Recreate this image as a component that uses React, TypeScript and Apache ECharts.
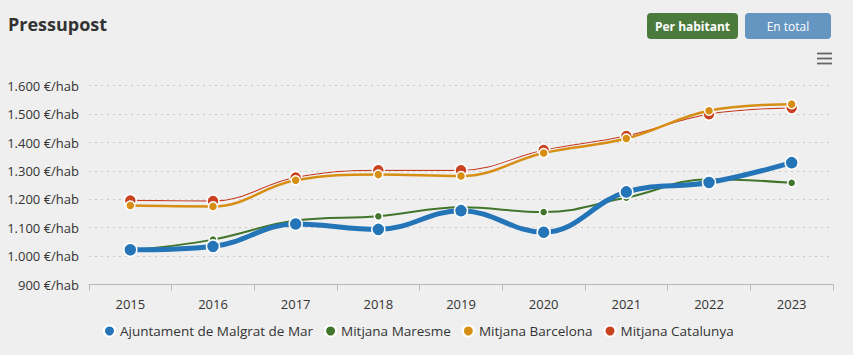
import React, { useEffect, useRef } from "react";
import * as echarts from "echarts";

const years = ["2015", "2016", "2017", "2018", "2019", "2020", "2021", "2022", "2023"];
const malgrat = [1022, 1034, 1113, 1094, 1160, 1084, 1226, 1259, 1329];
const maresme = [1020, 1058, 1125, 1140, 1172, 1155, 1206, 1271, 1258];
const barcelona = [1178, 1175, 1267, 1287, 1282, 1363, 1414, 1512, 1535];
const catalunya = [1196, 1194, 1277, 1302, 1302, 1373, 1423, 1500, 1522];
const seriesNames = ["Ajuntament de Malgrat de Mar", "Mitjana Maresme", "Mitjana Barcelona", "Mitjana Catalunya"];

const BLUE = "#2474b8";
const GREEN = "#41752b";
const ORANGE = "#d68f14";
const RED = "#c9411f";
const FONT = "'Open Sans', 'Noto Sans', sans-serif";

function fmt(v: number) {
  const s = String(v);
  return s.length > 3 ? s.slice(0, s.length - 3) + "." + s.slice(s.length - 3) : s;
}

export default function App() {
  const ref = useRef<HTMLDivElement>(null);
  useEffect(() => {
    if (!ref.current) return;
    const chart = echarts.init(ref.current, null, { renderer: "svg" });
    chart.setOption({
      animation: false,
      backgroundColor: "#efefef",
      textStyle: { fontFamily: FONT },
      grid: { left: 89, right: 20, top: 85.7, bottom: 70.5 },
      legend: {
        bottom: 12,
        left: 98,
        icon: "circle",
        itemWidth: 11,
        itemHeight: 11,
        itemGap: 11,
        textStyle: { fontSize: 13.5, color: "#333", fontFamily: FONT },
        data: seriesNames,
      },
      xAxis: {
        type: "category",
        data: years,
        boundaryGap: true,
        axisLine: { lineStyle: { color: "#b8b8b8", width: 1 } },
        axisTick: { show: true, length: 6, lineStyle: { color: "#b8b8b8" } },
        axisLabel: { color: "#333", fontSize: 13, margin: 13, fontFamily: FONT },
      },
      yAxis: {
        type: "value",
        min: 900,
        max: 1600,
        interval: 100,
        axisLine: { show: false },
        axisTick: { show: false },
        axisLabel: {
          color: "#333",
          fontSize: 13,
          margin: 10,
          fontFamily: FONT,
          formatter: (v: number) => fmt(v) + " €/hab",
        },
        splitLine: { lineStyle: { color: "#c8c8c8", type: [2, 4], width: 1 } },
      },
      series: [
        {
          name: seriesNames[0],
          type: "line",
          data: malgrat,
          smooth: 0.4,
          z: 6,
          color: BLUE,
          lineStyle: { width: 5, color: BLUE },
          symbol: "circle",
          symbolSize: 13,
          itemStyle: { color: BLUE, borderColor: "#fff", borderWidth: 1.5 },
        },
        {
          name: seriesNames[1],
          type: "line",
          data: maresme,
          smooth: 0.4,
          z: 5,
          color: GREEN,
          lineStyle: { width: 2, color: GREEN },
          symbol: "circle",
          symbolSize: 8,
          itemStyle: { color: GREEN, borderColor: "#fff", borderWidth: 1.5 },
        },
        {
          name: seriesNames[2],
          type: "line",
          data: barcelona,
          smooth: 0.4,
          z: 4,
          color: ORANGE,
          lineStyle: { width: 2.5, color: ORANGE },
          symbol: "circle",
          symbolSize: 9,
          itemStyle: { color: ORANGE, borderColor: "#fff", borderWidth: 1.5 },
        },
        {
          name: seriesNames[3],
          type: "line",
          data: catalunya,
          smooth: 0.4,
          z: 3,
          color: RED,
          lineStyle: { width: 1.3, color: RED, shadowColor: "rgba(255,255,255,0.9)", shadowBlur: 2 },
          symbol: "circle",
          symbolSize: 12,
          itemStyle: { color: RED, borderColor: "#fff", borderWidth: 1.5 },
        },
      ],
      graphic: [
        {
          type: "text",
          left: 8,
          top: 15,
          style: { text: "Pressupost", fontSize: 18, fontWeight: "bold", fill: "#333", fontFamily: FONT },
        },
        {
          type: "rect",
          shape: { x: 647, y: 13, width: 91, height: 26, r: 4 },
          style: { fill: "#4b7b3c" },
        },
        {
          type: "text",
          x: 692.5,
          y: 26,
          style: { text: "Per habitant", fontSize: 12, fontWeight: "bold", fill: "#fff", align: "center", verticalAlign: "middle", fontFamily: FONT },
        },
        {
          type: "rect",
          shape: { x: 745, y: 13, width: 86, height: 26, r: 4 },
          style: { fill: "#6595c1" },
        },
        {
          type: "text",
          x: 788,
          y: 26,
          style: { text: "En total", fontSize: 12, fill: "#fff", align: "center", verticalAlign: "middle", fontFamily: FONT },
        },
        { type: "line", shape: { x1: 817, y1: 53.5, x2: 832, y2: 53.5 }, style: { stroke: "#666", lineWidth: 1.8 } },
        { type: "line", shape: { x1: 817, y1: 58.5, x2: 832, y2: 58.5 }, style: { stroke: "#666", lineWidth: 1.8 } },
        { type: "line", shape: { x1: 817, y1: 63.5, x2: 832, y2: 63.5 }, style: { stroke: "#666", lineWidth: 1.8 } },
      ],
    });
    return () => chart.dispose();
  }, []);
  return <div ref={ref} style={{ position: "fixed", left: 0, top: 0, width: 853, height: 355 }} />;
}
